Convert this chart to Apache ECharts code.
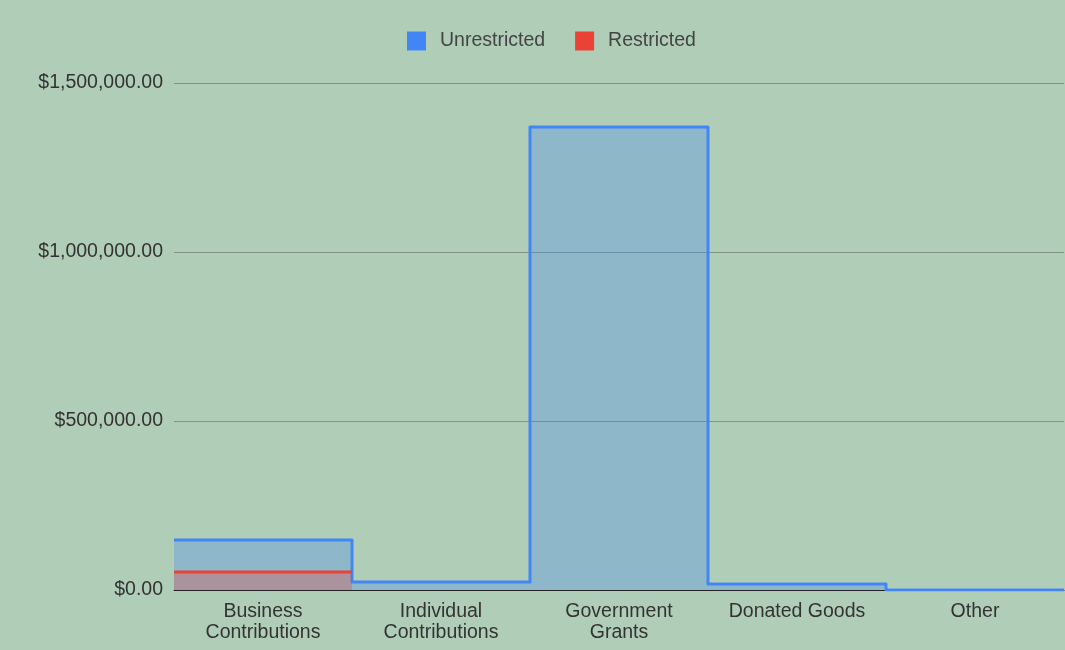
<!DOCTYPE html>
<html>
<head>
<meta charset="utf-8">
<script src="https://cdn.jsdelivr.net/npm/echarts@6/dist/echarts.min.js"></script>
<style>
html,body{margin:0;padding:0;background:#b0cdb8;}
#main{width:1065px;height:650px;}
</style>
</head>
<body>
<div id="main"></div>
<script>
var categories = ['Business\nContributions', 'Individual\nContributions', 'Government\nGrants', 'Donated Goods', 'Other'];
var unrestricted = [148000, 24000, 1370000, 18000, 0];
var restricted = [53000, null, null, null, null];
var yTicks = { min: 0, max: 1500000, interval: 500000 };

function stepData(vals) {
  var out = [];
  var last = null;
  for (var i = 0; i < vals.length; i++) {
    if (vals[i] === null) { if (last !== null) { out.push([i, last]); last = null; } break; }
    out.push([i, vals[i]]);
    last = vals[i];
  }
  if (last !== null) out.push([vals.length, last]);
  return out;
}
function money(v) {
  var s = Math.round(v).toString().replace(/\B(?=(\d{3})+(?!\d))/g, ',');
  return '$' + s + '.00';
}
var FONT = '"Liberation Sans", Arial, sans-serif';
var FS = 19.5;

var chart = echarts.init(document.getElementById('main'));
chart.setOption({
  backgroundColor: '#b0cdb8',
  textStyle: { fontFamily: FONT },
  legend: {
    top: 26, left: 402,
    itemWidth: 19, itemHeight: 19, itemGap: 30,
    icon: 'rect',
    textStyle: { fontSize: FS, color: '#444', fontFamily: FONT, padding: [0, 0, 0, 9] },
    data: [
      { name: 'Unrestricted', itemStyle: { color: '#4285f4', opacity: 1 } },
      { name: 'Restricted', itemStyle: { color: '#ea4335', opacity: 1 } }
    ]
  },
  grid: { left: 174, right: 1, top: 83, bottom: 60 },
  xAxis: [
    {
      type: 'category', data: categories, boundaryGap: true,
      axisLine: { show: true, lineStyle: { color: '#222', width: 1 } },
      axisTick: { show: false },
      axisLabel: { fontSize: FS, color: '#333', lineHeight: 21, margin: 11, interval: 0, fontFamily: FONT },
      splitLine: { show: false }
    },
    { type: 'value', min: 0, max: categories.length, show: false }
  ],
  yAxis: {
    type: 'value', min: yTicks.min, max: yTicks.max, interval: yTicks.interval,
    axisLine: { show: false }, axisTick: { show: false },
    axisLabel: { fontSize: FS, color: '#333', margin: 11, formatter: money, fontFamily: FONT },
    splitLine: { lineStyle: { color: '#7f9487', width: 1 } }
  },
  series: [
    {
      name: 'Unrestricted', type: 'line', xAxisIndex: 1, step: 'end',
      data: stepData(unrestricted), symbol: 'none',
      lineStyle: { color: '#4285f4', width: 3, join: 'round' },
      itemStyle: { color: '#4285f4' },
      areaStyle: { color: '#4285f4', opacity: 0.3 },
      z: 3
    },
    {
      name: 'Restricted', type: 'line', xAxisIndex: 1, step: 'end',
      data: stepData(restricted), symbol: 'none',
      lineStyle: { color: '#ea4335', width: 3, join: 'round' },
      itemStyle: { color: '#ea4335' },
      areaStyle: { color: '#ea4335', opacity: 0.3 },
      z: 4
    }
  ],
  animation: false
});
</script>
</body>
</html>
